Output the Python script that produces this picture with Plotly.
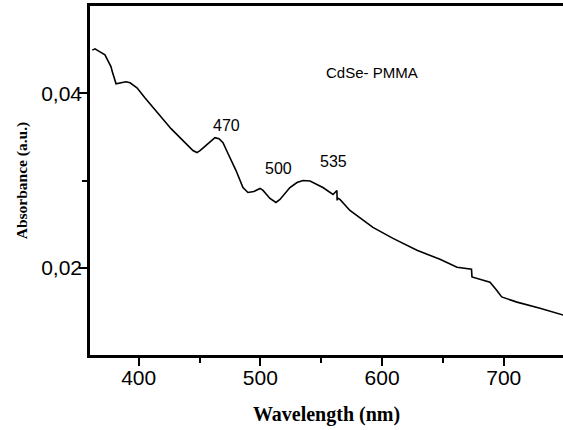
import plotly.graph_objects as go

wavelength = [361.9, 364.1, 368.2, 372.3, 377.3, 378.1, 381.4, 384.7, 389.6, 392.9,
              398.6, 405.1, 414.2, 426.6, 435.6, 444.6, 447.9, 450.4, 456.1, 462.7,
              466.0, 469.3, 473.4, 480.0, 485.7, 489.8, 494.7, 499.7, 502.2, 507.9,
              512.8, 516.1, 524.3, 530.1, 535.0, 540.8, 551.4, 559.7, 562.9, 563.1,
              563.4, 565.4, 573.6, 592.5, 609.0, 628.7, 647.6, 661.6, 672.2, 673.5,
              673.9, 688.7, 694.2, 698.3, 710.9, 729.8, 749.0]
absorbance = [0.04494, 0.04509, 0.04474, 0.04440, 0.04303, 0.04257, 0.04109, 0.04120, 0.04131, 0.04120,
              0.04063, 0.03949, 0.03800, 0.03594, 0.03469, 0.03343, 0.03320, 0.03343, 0.03411, 0.03491,
              0.03480, 0.03434, 0.03309, 0.03114, 0.02920, 0.02863, 0.02874, 0.02909, 0.02886, 0.02794,
              0.02749, 0.02783, 0.02920, 0.02977, 0.03000, 0.02994, 0.02920, 0.02840, 0.02886, 0.02771,
              0.02800, 0.02783, 0.02657, 0.02463, 0.02337, 0.02200, 0.02097, 0.02006, 0.01991, 0.01983,
              0.01895, 0.01834, 0.01743, 0.01666, 0.01606, 0.01537, 0.01457]

label_texts = ["CdSe- PMMA", "470", "500", "535"]
label_x = [591.7, 471.8, 514.7, 560.2]
label_y = [0.04234, 0.03629, 0.03134, 0.03221]
label_sizes = [15, 16, 16, 16]

fig = go.Figure()
fig.add_trace(go.Scatter(x=wavelength, y=absorbance, mode="lines",
                         line=dict(color="black", width=1.6), showlegend=False))

for t, x, y, s in zip(label_texts, label_x, label_y, label_sizes):
    fig.add_annotation(x=x, y=y, text=t, showarrow=False,
                       font=dict(family="Arial, Liberation Sans", size=s, color="black"))

fig.update_layout(
    width=563, height=430,
    margin=dict(l=90, r=0, t=6, b=75),
    paper_bgcolor="white", plot_bgcolor="white",
    separators=",.",
    font=dict(family="Arial, Liberation Sans", color="black"),
    xaxis=dict(range=[360, 748.7], tickvals=[400, 500, 600, 700],
               ticks="outside", ticklen=8, tickwidth=2, tickcolor="black",
               minor=dict(tickvals=[450, 550, 650], ticks="outside", ticklen=5, tickwidth=2, tickcolor="black"),
               showline=True, linewidth=2.5, linecolor="black", mirror=True,
               showgrid=False, zeroline=False,
               tickfont=dict(size=21), ticklabelstandoff=-6,
               title=dict(text="Wavelength (nm)", standoff=20,
                          font=dict(family="Times New Roman, Liberation Serif", size=20, weight="bold"))),
    yaxis=dict(range=[0.01, 0.05], tickvals=[0.02, 0.04], tickformat=".2f",
               ticks="outside", ticklen=8, tickwidth=2, tickcolor="black",
               minor=dict(tickvals=[0.03], ticks="outside", ticklen=5, tickwidth=2, tickcolor="black"),
               showline=True, linewidth=2.5, linecolor="black", mirror=False,
               showgrid=False, zeroline=False,
               tickfont=dict(size=21), ticklabelstandoff=-7,
               title=dict(text="Absorbance (a.u.)", standoff=10,
                          font=dict(family="Times New Roman, Liberation Serif", size=15.5, weight="bold"))),
)

fig.write_html("out.html", config={"displayModeBar": False},
               post_script="document.body.style.margin='0';")
